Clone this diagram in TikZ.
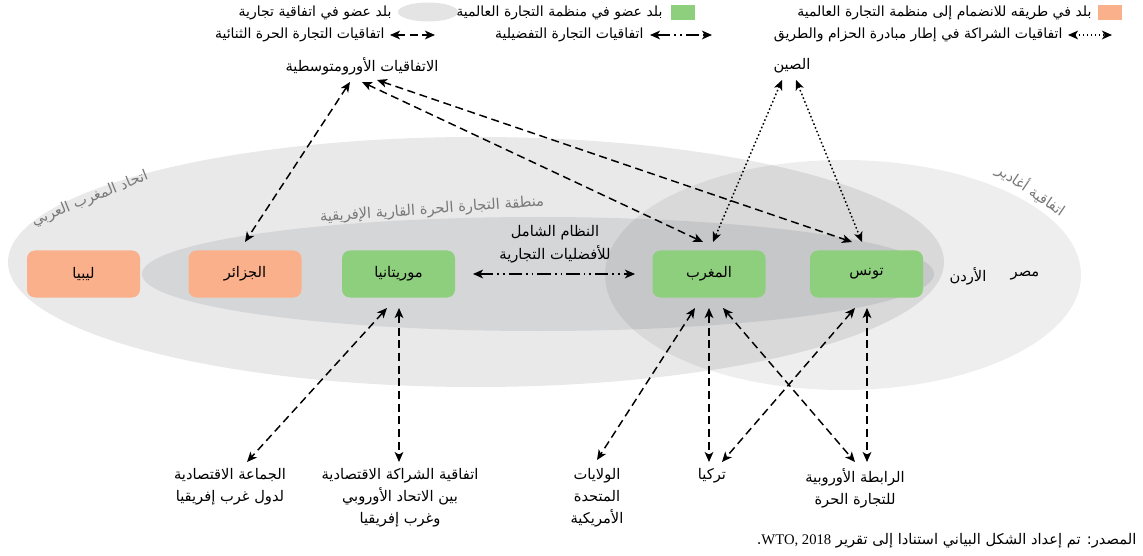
\documentclass[tikz,border=0pt]{standalone}
\usepackage{fontspec}
\setmainfont{DejaVu Sans}
\newfontfamily\arfont[Script=Arabic]{DejaVu Sans}
\newfontfamily\latserif{Liberation Serif}
\TeXXeTstate=1
\usetikzlibrary{arrows.meta}
\definecolor{orangebox}{HTML}{FBB08C}
\definecolor{greenbox}{HTML}{8ECF7E}
\definecolor{maghrebgray}{HTML}{E9E9E9}
\definecolor{afgray}{HTML}{D5D6D8}
\definecolor{legendgray}{HTML}{E4E4E4}
\definecolor{labelgray}{HTML}{787878}
\newcommand{\AR}[1]{\beginR #1\endR}
\begin{document}
\begin{tikzpicture}[x=0.75pt,y=-0.75pt,
  txt/.style={font=\arfont\fontsize{11}{16.5}\selectfont, inner sep=1pt, align=center},
  legtxt/.style={txt, font=\arfont\fontsize{10.5}{14}\selectfont, anchor=east},
  country/.style={txt, rounded corners=6pt, minimum width=84.75pt, minimum height=35.25pt, inner sep=0pt},
  orangec/.style={country, fill=orangebox},
  greenc/.style={country, fill=greenbox},
  ringlabel/.style={txt, text=labelgray},
  swatch/.style={minimum width=18pt, minimum height=11.25pt, inner sep=0pt},
  link/.style={{Stealth[length=7.5pt,width=6.5pt,inset=2pt]}-{Stealth[length=7.5pt,width=6.5pt,inset=2pt]}, line width=1.1pt},
  ftaline/.style={link, dash pattern=on 6pt off 3.5pt},
  prefline/.style={link, dash pattern=on 10pt off 3pt on 1.3pt off 3pt on 1.3pt off 3pt},
  briline/.style={link, dash pattern=on 1.2pt off 1.8pt},
]
\fill[white] (0,0) rectangle (1143,556);
\useasboundingbox (0,0) rectangle (1143,556);

% regions
\fill[maghrebgray] (476,262) ellipse [x radius=468, y radius=125];
\fill[afgray] (538,274) ellipse [x radius=396, y radius=57];
\fill[black, fill opacity=0.065] (843,275) ellipse [x radius=238, y radius=115];
\node[ringlabel, rotate=22] (lblmaghreb) at (90,199) {\AR{اتحاد المغرب العربي}};
\node[ringlabel, rotate=4] (lblafcfta) at (432,210) {\AR{منطقة التجارة الحرة القارية الإفريقية}};
\node[ringlabel, rotate=-34] (lblagadir) at (1031,190) {\AR{اتفاقية أغادير}};

% legend
\node[swatch, fill=orangebox] (legorange) at (1109.5,12.5) {};
\node[legtxt] (legorangetxt) at (1093,13) {\AR{بلد في طريقه للانضمام إلى منظمة التجارة العالمية}};
\node[swatch, fill=greenbox] (leggreen) at (682.5,12.5) {};
\node[legtxt] (leggreentxt) at (664,13) {\AR{بلد عضو في منظمة التجارة العالمية}};
\fill[legendgray] (428,12) ellipse [x radius=30, y radius=9.5];
\node[legtxt] (leggraytxt) at (393,13) {\AR{بلد عضو في اتفاقية تجارية}};
\coordinate (legbriA) at (1068,35); \coordinate (legbriB) at (1112,35);
\draw[briline] (legbriA) -- (legbriB);
\node[legtxt] (legbritxt) at (1064,35) {\AR{اتفاقيات الشراكة في إطار مبادرة الحزام والطريق}};
\coordinate (legprefA) at (650,35); \coordinate (legprefB) at (712,35);
\draw[prefline] (legprefA) -- (legprefB);
\node[legtxt] (legpreftxt) at (645,35) {\AR{اتفاقيات التجارة التفضيلية}};
\coordinate (legftaA) at (390,35); \coordinate (legftaB) at (435,35);
\draw[ftaline] (legftaA) -- (legftaB);
\node[legtxt] (legftatxt) at (386,35) {\AR{اتفاقيات التجارة الحرة الثنائية}};

% countries
\node[orangec] (libya) at (83.5,274) {\AR{ليبيا}};
\node[orangec] (algeria) at (245,274) {\AR{الجزائر}};
\node[greenc] (maur) at (398.5,274) {\AR{موريتانيا}};
\node[greenc] (maroc) at (709,274) {\AR{المغرب}};
\node[greenc] (tunis) at (866.5,274) {\AR{تونس}};
\node[txt] (jordan) at (968,276) {\AR{الأردن}};
\node[txt] (egypt) at (1025,276) {\AR{مصر}};
\node[txt, font=\arfont\fontsize{11}{17}\selectfont] (gsp) at (555,244) {\AR{النظام الشامل}\\\AR{للأفضليات التجارية}};

% partners
\node[txt] (euromed) at (362,66) {\AR{الاتفاقيات الأورومتوسطية}};
\node[txt] (china) at (792,66) {\AR{الصين}};
\node[txt, anchor=north] (ecowas) at (230,467) {\AR{الجماعة الاقتصادية}\\\AR{لدول غرب إفريقيا}};
\node[txt, anchor=north] (epa) at (400,467) {\AR{اتفاقية الشراكة الاقتصادية}\\\AR{بين الاتحاد الأوروبي}\\\AR{وغرب إفريقيا}};
\node[txt, anchor=north] (usa) at (597,467) {\AR{الولايات}\\\AR{المتحدة}\\\AR{الأمريكية}};
\node[txt, anchor=north] (turkey) at (712,467) {\AR{تركيا}};
\node[txt, anchor=north] (efta) at (855,467) {\AR{الرابطة الأوروبية}\\\AR{للتجارة الحرة}};

% source
\node[txt, anchor=east] (source) at (1138,541) {\AR{المصدر: تم إعداد الشكل البياني استنادا إلى تقرير \beginL{\latserif WTO, 2018}\endL.}};

% connectors
\draw[ftaline] ([shift={(-12,16)}]euromed.center) -- ([shift={(0,-32)}]algeria.center);
\draw[ftaline] ([shift={(0,16)}]euromed.center) -- ([shift={(-6,-32)}]maroc.center);
\draw[ftaline] ([shift={(15,14)}]euromed.center) -- ([shift={(-14.5,-32)}]tunis.center);
\draw[briline] ([shift={(-10,14)}]china.center) -- ([shift={(4,-32)}]maroc.center);
\draw[briline] ([shift={(4,14)}]china.center) -- ([shift={(-4.5,-32)}]tunis.center);
\draw[prefline] ([shift={(74.5,0)}]maur.center) -- ([shift={(-74,0)}]maroc.center);
\draw[ftaline] ([shift={(-11.5,34)}]maur.center) -- ([shift={(17,-5)}]ecowas.north);
\draw[ftaline] ([shift={(0.5,34)}]maur.center) -- ([shift={(-1,-5)}]epa.north);
\draw[ftaline] ([shift={(-14,34)}]maroc.center) -- ([shift={(0,-7)}]usa.north);
\draw[ftaline] ([shift={(0,34)}]maroc.center) -- ([shift={(-3,-5)}]turkey.north);
\draw[ftaline] ([shift={(14,34)}]maroc.center) -- ([shift={(0,-5)}]efta.north);
\draw[ftaline] ([shift={(-11.5,34)}]tunis.center) -- ([shift={(10,-5)}]turkey.north);
\draw[ftaline] ([shift={(0.5,34)}]tunis.center) -- ([shift={(12,-5)}]efta.north);
\end{tikzpicture}
\end{document}
